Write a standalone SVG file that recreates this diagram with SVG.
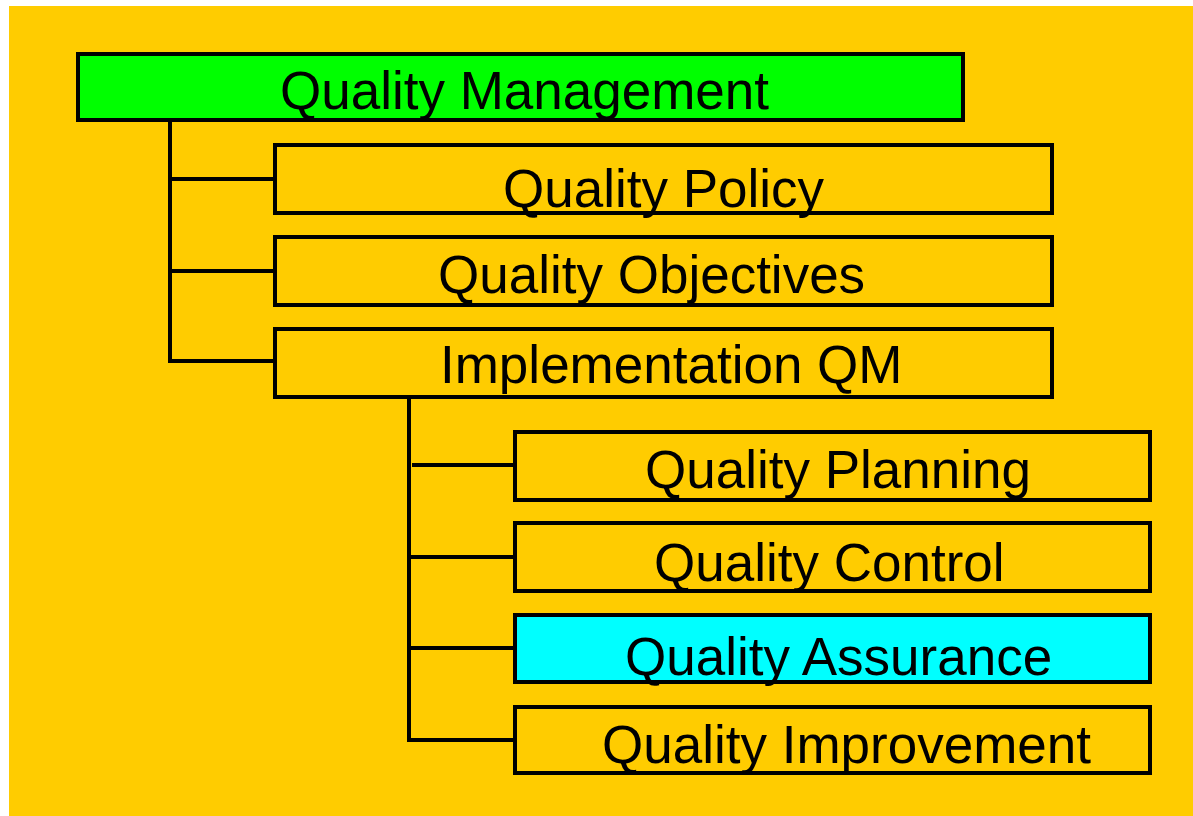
<svg xmlns="http://www.w3.org/2000/svg" width="1193" height="816" viewBox="0 0 1193 816">
<style>
.box{fill:#FFCC00;stroke:#000;stroke-width:4}
.green{fill:#00FF00}
.cyan{fill:#00FFFF}
.lbl{font-family:"Liberation Sans",Arial,sans-serif;font-size:53px;fill:#000}
.con{stroke:#000;stroke-width:4;fill:none}
</style>
<rect x="0" y="0" width="1193" height="816" fill="#FFFFFF"/>
<rect x="9" y="6" width="1184" height="810" fill="#FFCC00"/>
<g id="connectors">
<path class="con" d="M170 120V363M168 179H275M168 271H275M168 361H275"/>
<path class="con" d="M409 397V742M412 465H515M407 557H515M407 648H515M407 740H515"/>
</g>
<g id="quality-management">
<rect class="box green" x="78" y="54" width="885" height="66"/>
<text class="lbl" x="280" y="109">Quality Management</text>
</g>
<g id="quality-policy">
<rect class="box" x="275" y="145" width="777" height="68"/>
<text class="lbl" x="503" y="207">Quality Policy</text>
</g>
<g id="quality-objectives">
<rect class="box" x="275" y="237" width="777" height="68"/>
<text class="lbl" x="438" y="293">Quality Objectives</text>
</g>
<g id="implementation-qm">
<rect class="box" x="275" y="329" width="777" height="68"/>
<text class="lbl" x="440" y="383">Implementation QM</text>
</g>
<g id="quality-planning">
<rect class="box" x="515" y="432" width="635" height="68"/>
<text class="lbl" x="645" y="488">Quality Planning</text>
</g>
<g id="quality-control">
<rect class="box" x="515" y="523" width="635" height="68"/>
<text class="lbl" x="654" y="581">Quality Control</text>
</g>
<g id="quality-assurance">
<rect class="box cyan" x="515" y="615" width="635" height="67"/>
<text class="lbl" x="625" y="675">Quality Assurance</text>
</g>
<g id="quality-improvement">
<rect class="box" x="515" y="707" width="635" height="66"/>
<text class="lbl" x="602" y="763">Quality Improvement</text>
</g>
</svg>
